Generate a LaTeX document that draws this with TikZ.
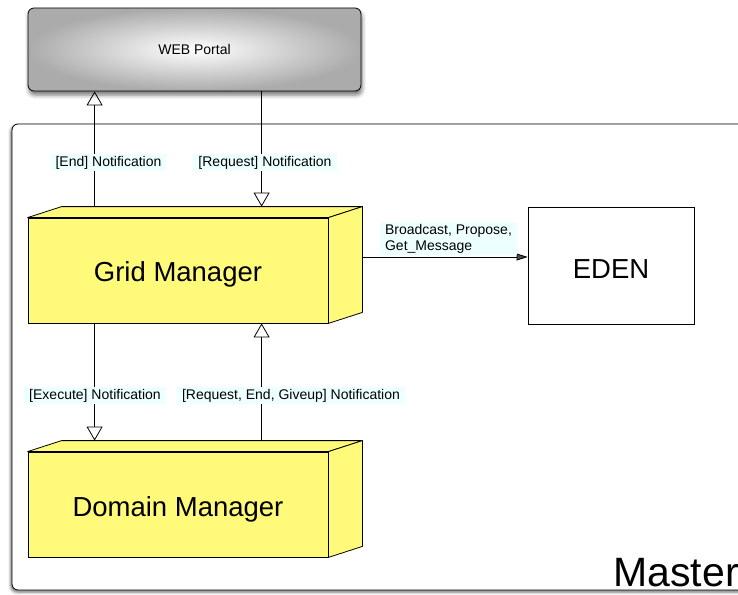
\documentclass[tikz,border=0pt]{standalone}
\usepackage{fontspec}
\setmainfont{Liberation Sans}
\usetikzlibrary{arrows.meta,shadows.blur,calc}
\definecolor{lblbg}{HTML}{EEFFFF}
\definecolor{boxyellow}{HTML}{FFFA7A}
\tikzset{
  lbl/.style={fill=lblbg, font=\fontsize{14}{16}\selectfont, inner xsep=5pt, inner ysep=2pt},
  opentri/.style={-{Triangle[open,width=16pt,length=14pt]}},
  filltri/.style={-{Triangle[width=7pt,length=11pt]}},
  conn/.style={line width=0.8pt},
  portal/.style={draw, line width=0.8pt, rounded corners=6pt, minimum width=333pt, minimum height=83pt,
    inner color=white, outer color=black!33,
    blur shadow={shadow xshift=1pt, shadow yshift=-4pt, shadow blur radius=4pt, shadow opacity=55},
    font=\fontsize{14}{16}\selectfont},
  front/.style={draw, line width=0.8pt, fill=boxyellow, minimum width=300pt, minimum height=105pt,
    font=\fontsize{27.5}{32}\selectfont},
  face/.style={draw, line width=0.8pt, fill=boxyellow, line join=round},
  plainbox/.style={draw, line width=0.8pt, fill=white, minimum width=166pt, minimum height=117pt},
  bigtext/.style={font=\fontsize{27.5}{32}\selectfont},
  frame/.style={draw, line width=0.8pt, rounded corners=6pt, fill=white,
    blur shadow={shadow xshift=-1pt, shadow yshift=-2pt, shadow blur radius=3pt, shadow opacity=60}}
}
\begin{document}
\begin{tikzpicture}[x=1pt,y=-1pt]
\useasboundingbox (0,0) rectangle (738,594);
% Master frame
\path[frame] (12,124) rectangle (770,590);
\node[anchor=base east, font=\fontsize{41}{46}\selectfont, inner sep=0pt] (master) at (739,586) {Master};
% Web portal
\node[portal] (web) at (194.5,49.5) {WEB Portal};
% Grid manager
\node[front] (gm) at (178,270.5) {};
\path[face] (gm.north west) -- ++(34,-11) -- ($(gm.north east)+(34,-11)$) -- (gm.north east) -- cycle;
\path[face] (gm.north east) -- ++(34,-11) -- ($(gm.south east)+(34,-11)$) -- (gm.south east) -- cycle;
\node[bigtext, yshift=-3.5pt] (gmtext) at (gm.center) {Grid Manager};
% Domain manager
\node[front] (dm) at (178,504.5) {};
\path[face] (dm.north west) -- ++(34,-11) -- ($(dm.north east)+(34,-11)$) -- (dm.north east) -- cycle;
\path[face] (dm.north east) -- ++(34,-11) -- ($(dm.south east)+(34,-11)$) -- (dm.south east) -- cycle;
\node[bigtext, yshift=-4.5pt] (dmtext) at (dm.center) {Domain Manager};
% EDEN
\node[plainbox] (eden) at (611,265.5) {};
\node[bigtext, yshift=-3.5pt] (edentext) at (eden.center) {EDEN};
% coordinates on 3D boxes
\coordinate (gmA) at ($(gm.north west)+(67,-11)$);
\coordinate (gmB) at ($(gm.north west)+(234,-11)$);
\coordinate (gmR) at ($(gm.east)+(34,-13.5)$);
\coordinate (dmA) at ($(dm.north west)+(67,-11)$);
\coordinate (dmB) at ($(dm.north west)+(234,-11)$);
% connectors
\draw[conn, opentri] (gmA) -- (gmA |- web.south);
\draw[conn, opentri] (gmB |- web.south) -- (gmB);
\draw[conn, filltri] (gmR) -- (gmR -| eden.west);
\draw[conn, opentri] (dmA |- gm.south) -- (dmA);
\draw[conn, opentri] (dmB) -- (dmB |- gm.south);
% labels
\node[lbl] (l1) at (108.5,162.5) {[End] Notification};
\node[lbl] (l2) at (265,162.5) {[Request] Notification};
\node[lbl, align=left, font=\fontsize{14}{16}\selectfont] (l3) at (448.5,238.5) {Broadcast, Propose,\\Get\_Message};
\node[lbl] (l4) at (95,395.5) {[Execute] Notification};
\node[lbl] (l5) at (291,395.5) {[Request, End, Giveup] Notification};
\end{tikzpicture}
\end{document}
